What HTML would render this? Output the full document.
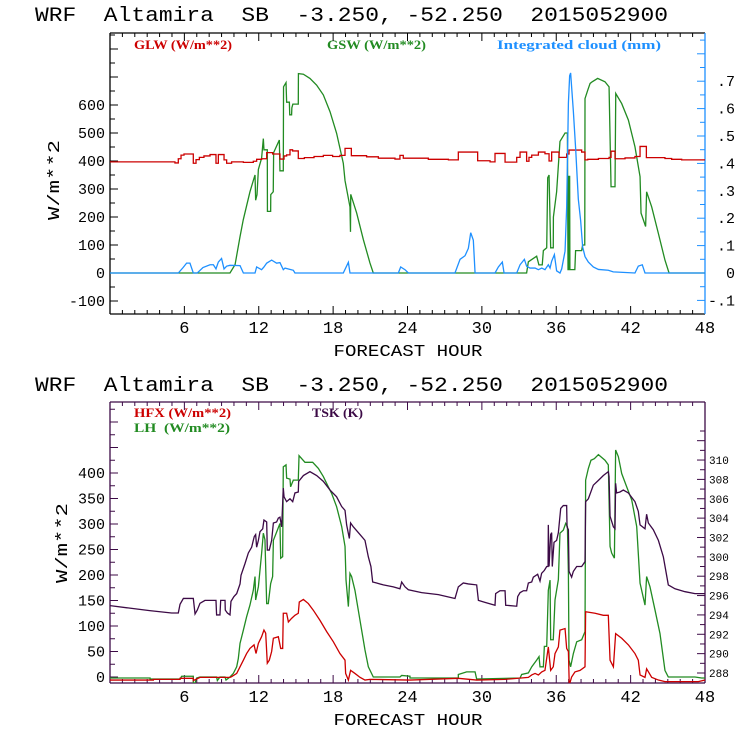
<!DOCTYPE html>
<html><head><meta charset="utf-8"><style>
html,body{margin:0;padding:0;background:#fff;}
svg{display:block;}
.mono{font-family:"Liberation Mono",monospace;}
.ser{font-family:"Liberation Serif",serif;font-weight:bold;}
</style></head><body>
<svg id="chart" width="740" height="740" viewBox="0 0 740 740" xmlns="http://www.w3.org/2000/svg">
<defs>
<clipPath id="c1"><rect x="110" y="33" width="595" height="281"/></clipPath>
<clipPath id="c2"><rect x="110" y="402" width="595" height="281"/></clipPath>
</defs>
<rect width="740" height="740" fill="#fff"/>
<text class="mono" x="35" y="21" font-size="20" textLength="633" lengthAdjust="spacingAndGlyphs" xml:space="preserve">WRF  Altamira  SB  -3.250, -52.250  2015052900</text>
<text class="mono" x="35" y="391" font-size="20" textLength="633" lengthAdjust="spacingAndGlyphs" xml:space="preserve">WRF  Altamira  SB  -3.250, -52.250  2015052900</text>
<text class="ser" x="134" y="49" font-size="13" fill="#cc0000" textLength="98" lengthAdjust="spacingAndGlyphs">GLW (W/m**2)</text>
<text class="ser" x="327" y="49" font-size="13" fill="#228b22" textLength="99" lengthAdjust="spacingAndGlyphs">GSW (W/m**2)</text>
<text class="ser" x="497" y="49" font-size="13" fill="#1e90ff" textLength="164" lengthAdjust="spacingAndGlyphs">Integrated cloud (mm)</text>
<text class="ser" x="134" y="417" font-size="13" fill="#cc0000" textLength="97" lengthAdjust="spacingAndGlyphs">HFX (W/m**2)</text>
<text class="ser" x="134" y="432" font-size="13" fill="#228b22" textLength="96" lengthAdjust="spacingAndGlyphs" xml:space="preserve">LH  (W/m**2)</text>
<text class="ser" x="312" y="417" font-size="13" fill="#3c0a46" textLength="51" lengthAdjust="spacingAndGlyphs">TSK (K)</text>
<text class="mono" x="408" y="356" font-size="17" text-anchor="middle" textLength="149" lengthAdjust="spacingAndGlyphs">FORECAST HOUR</text>
<text class="mono" x="408" y="725" font-size="17" text-anchor="middle" textLength="149" lengthAdjust="spacingAndGlyphs">FORECAST HOUR</text>
<text class="mono" transform="translate(59,180) rotate(-90)" font-size="17" text-anchor="middle" textLength="80" lengthAdjust="spacingAndGlyphs">W/m**2</text>
<text class="mono" transform="translate(67,543) rotate(-90)" font-size="17" text-anchor="middle" textLength="80" lengthAdjust="spacingAndGlyphs">W/m**2</text>
<g id="g"></g>
</svg>
<script>
// ---- data ----
const xTicks = [6,12,18,24,30,36,42,48];
const topLeftTicks = [-100,0,100,200,300,400,500,600];
const topRightTicks = [-0.1,0,0.1,0.2,0.3,0.4,0.5,0.6,0.7];
const topRightLabels = ["-.1","0",".1",".2",".3",".4",".5",".6",".7"];
const botLeftTicks = [0,50,100,150,200,250,300,350,400];
const botRightTicks = [288,290,292,294,296,298,300,302,304,306,308,310];

const glwT = [0,5.24,5.51,5.73,5.97,6.72,6.94,7.21,7.58,8.07,8.55,8.74,9.2,9.41,9.81,10.76,11.56,11.83,12.23,12.64,13.12,13.71,14.04,14.25,14.52,14.73,15.19,15.68,16.46,17.21,17.96,18.55,18.96,19.47,20.7,21.65,22.99,23.39,23.66,25.68,27.3,28.1,29.66,30.66,31.06,31.87,32.81,33.08,33.61,33.8,34.02,34.56,35.09,35.42,35.63,36.22,36.84,37.03,38.05,38.32,38.54,39.4,40.26,40.42,40.74,41.55,42.35,42.76,43.27,44.77,45.31,46.12];
const glwV = [397,393,408,421,425,392,405,413,418,423,392,423,404,392,397,395,399,406,408,430,425,407,418,422,440,436,409,412,416,420,416,420,445,419,415,410,407,420,410,406,404,432,401,397,427,396,413,432,399,413,421,432,426,400,432,413,425,439,432,404,406,409,413,435,408,411,416,452,412,409,406,404];

const gswT = [0,9.68,10.09,10.49,10.75,11.02,11.29,11.56,11.7,11.75,11.86,11.97,12.23,12.37,12.42,12.69,12.7,12.96,12.97,13.17,13.2,13.66,13.71,13.98,14.0,14.2,14.25,14.47,14.5,14.65,14.67,14.75,15.19,15.2,15.6,16.13,16.67,17.21,17.75,18.28,18.82,18.96,19.36,19.4,19.42,19.9,20.44,20.97,21.24,33.61,33.75,34.42,34.6,34.87,34.96,35.23,35.31,35.42,35.55,35.76,35.77,36.03,36.3,36.71,36.9,36.95,37.0,37.02,37.08,37.1,37.5,37.56,38.05,38.13,38.3,38.32,38.54,38.73,38.9,39.34,39.93,40.26,40.42,40.74,40.8,41.28,41.82,42.35,42.76,42.84,43.21,43.29,43.7,44.24,44.77,45.1,48];
const gswV = [0,0,30,130,190,240,290,330,350,260,280,370,410,480,440,440,220,220,280,290,430,475,365,365,665,680,610,610,565,565,590,603,603,712,710,695,671,636,576,499,392,330,236,147,281,214,119,36,0,0,40,60,29,29,80,90,340,350,90,90,200,290,470,500,500,12,12,345,345,12,12,80,80,100,100,623,653,677,683,695,683,665,308,308,641,605,546,451,344,214,166,290,236,141,46,0,0];

const cldT = [0,5.51,5.9,6.18,6.45,6.72,7.04,7.5,8.07,8.34,8.55,8.74,9.0,9.2,9.41,9.68,10.49,10.76,11.7,11.83,12.23,12.42,12.64,13.04,13.44,13.71,13.98,14.12,14.79,14.92,18.82,19.23,19.36,23.26,23.45,23.8,24.07,27.83,28.24,28.64,28.91,29.1,29.31,29.45,31.06,31.33,31.65,31.79,32.81,33.08,33.43,33.61,33.88,34.29,34.56,34.83,35.09,35.36,35.5,35.63,35.85,36.03,36.3,36.44,36.71,36.84,36.98,37.08,37.16,37.38,37.57,37.78,37.97,38.13,38.32,38.59,38.99,39.4,40.2,40.6,42.35,42.62,42.94,43.16,48];
const cldV = [0,0,0.02,0.036,0.036,0,0,0.02,0.03,0.03,0.015,0.04,0.053,0.015,0.025,0.028,0.027,0,0,0.022,0.012,0.022,0.036,0.047,0.036,0.038,0.012,0.018,0.01,0,0,0.039,0,0,0.022,0.012,0,0,0.05,0.063,0.09,0.147,0.12,0,0,0.022,0.04,0,0,0.03,0.05,0.025,0.018,0.018,0.012,0.018,0.012,0.03,0.018,0.043,0.067,0.008,0,0.015,0.08,0.24,0.62,0.72,0.73,0.59,0.45,0.27,0.19,0.095,0.06,0.04,0.022,0.013,0.01,0.004,0,0.025,0.03,0,0];

const tskT = [0,1.6,3.2,4.97,5.51,5.65,5.92,6.72,6.86,7.04,7.26,7.66,8.55,8.6,8.87,8.93,9.28,9.3,9.47,9.68,9.76,10.0,10.22,10.49,10.57,10.89,11.16,11.43,11.56,11.64,11.75,11.83,11.97,12.1,12.32,12.42,12.64,12.69,12.85,13.04,13.18,13.44,13.58,13.71,13.85,13.98,14.04,14.25,14.52,14.74,14.92,15.19,15.22,15.6,16.13,16.67,17.21,17.75,18.28,18.69,18.96,19.09,19.31,19.41,19.63,20.17,20.57,20.84,21.05,21.19,21.51,22.05,22.86,23.39,23.53,23.8,24.07,25.14,26.49,27.83,28.1,28.5,28.91,29.58,29.72,30.25,31.06,31.11,31.46,31.87,31.92,32.81,32.89,33.08,33.35,33.61,33.75,34.02,34.15,34.5,34.69,34.82,35.04,35.23,35.34,35.36,35.42,35.55,35.63,35.68,35.82,36.03,36.17,36.36,36.57,36.84,36.87,36.98,37.03,37.24,37.38,37.65,38.05,38.32,38.37,38.59,38.99,39.4,39.8,40.2,40.26,40.34,40.61,40.74,40.79,40.87,41.14,41.41,41.82,42.35,42.62,42.76,43.16,43.29,43.43,43.83,44.24,44.64,45.04,45.58,46.39,47.19,48];
const tskV = [294.96,294.7,294.44,294.2,294.2,295.1,295.7,295.7,294.1,294.5,295.2,295.5,295.5,294.0,294.0,295.5,295.5,294.5,294.2,294.0,295.4,295.9,296.2,297.2,298.1,299.3,300.4,301.0,301.7,302.1,302.3,301.0,301.7,302.6,302.9,303.8,303.6,300.7,300.7,301.7,303.5,303.6,304.0,304.1,303.1,307.1,306.2,305.7,306.0,305.7,306.6,306.7,307.8,308.4,308.8,308.4,307.8,306.9,306.2,305.2,304.8,303.3,301.9,303.5,303.1,302.3,301.7,300.0,299.0,297.4,297.3,297.1,296.9,296.7,297.4,296.9,296.6,296.3,296.1,295.7,296.9,297.3,297.2,297.1,295.5,295.3,295.0,296.2,296.5,296.5,295.0,294.9,295.9,296.3,296.5,296.5,297.3,297.4,297.9,298.2,297.5,298.3,298.6,299.0,299.0,303.3,299.0,302.3,302.5,299.0,301.5,301.7,302.5,305.0,305.3,305.3,303.1,302.8,298.5,297.9,298.5,299.0,299.0,299.5,305.7,306.0,307.4,307.9,308.4,308.8,308.3,304.2,303.1,302.9,307.6,306.6,306.7,306.9,306.6,305.7,304.7,303.3,302.9,304.4,303.5,302.8,301.7,300.0,297.1,296.7,296.4,296.2,296.2];

const lhT = [0,3.23,3.23,5.65,5.78,6.72,6.72,6.86,6.99,7.26,8.6,8.66,8.87,9.28,9.36,9.68,9.95,10.22,10.35,10.49,10.76,11.02,11.29,11.56,11.7,11.75,11.97,12.23,12.37,12.5,12.64,12.77,12.96,13.12,13.18,13.44,13.71,13.77,13.93,13.98,14.2,14.25,14.52,14.57,14.79,15.19,15.25,15.73,16.35,16.81,17.21,17.61,17.88,18.28,18.69,18.96,19.04,19.23,19.36,19.49,19.76,20.03,20.3,20.57,20.84,21.24,23.39,23.53,24.2,24.2,28.1,28.1,28.77,29.45,29.58,33.08,33.21,33.75,34.02,34.42,34.61,34.69,34.96,35.04,35.23,35.36,35.5,35.55,35.76,35.9,36.17,36.3,36.57,36.76,36.9,36.98,37.03,37.16,37.38,37.65,38.05,38.32,38.37,38.59,38.8,39.07,39.4,39.93,40.2,40.34,40.47,40.69,40.79,41.01,41.28,41.68,42.09,42.49,42.76,43.16,43.29,43.56,43.97,44.37,44.77,45.04,47.19,47.73,48];
const lhV = [-2,-2,-4,-4,1.5,1.5,-12,-12,-2,0,0,-7,0,0,-6,0,7,20,36,66,92,118,141,170,197,151,177,242,282,269,144,144,183,197,268,284,301,233,236,412,416,390,388,373,386,386,434,421,421,409,393,373,360,334,295,256,190,138,203,197,170,131,92,53,20,0,0,3,1.5,-2,-2,5,10,10,-4,-2,5,8,20,33,40,20,20,60,60,170,190,73,73,151,191,282,288,301,295,203,33,20,46,69,73,89,386,409,425,428,436,425,416,256,243,233,445,432,399,373,347,295,184,141,197,177,131,85,13,0,0,-2,-2];

const hfxT = [0,3.5,3.5,5.65,5.65,6.72,6.72,7.26,9.68,9.81,10.22,10.49,10.76,11.02,11.29,11.62,11.78,11.97,12.23,12.42,12.56,12.69,12.85,13.04,13.18,13.58,13.77,13.93,13.98,14.25,14.39,14.65,14.92,15.19,15.27,15.6,16.0,16.4,16.94,17.48,18.02,18.55,18.96,19.01,19.23,19.41,19.76,20.17,20.57,20.97,24.2,28.1,29.58,31.87,33.75,34.02,34.29,34.56,34.83,35.09,35.36,35.55,35.76,35.9,36.17,36.3,36.71,36.84,36.98,37.05,37.24,37.51,37.92,38.32,38.37,39.13,39.8,40.2,40.34,40.61,40.79,41.28,41.82,42.35,42.62,42.76,43.16,43.29,43.7,44.24,44.77,47.46,48];
const hfxV = [-6,-6,-4.6,-4.6,-2.6,-2.6,-7,-0.7,-0.7,0.65,7,20,33,46,56,63,46,66,79,92,86,27,33,50,76,79,56,56,125,125,108,115,121,125,147,152,144,131,111,89,69,46,33,7,-6,13,7,-0.7,-6,-4.6,-6,-2.6,-6,-4.6,-0.7,4,7,4,10,13,59,13,20,46,59,92,95,56,50,-16,0,10,13,20,128,125,121,121,33,20,85,76,63,46,33,4,-0.7,16,-0.7,-6,-9,-9,-6];

// ---- axis functions ----
const X0=110, X1=705;
const xs = h => X0 + (X1-X0)*h/48;
const yTopL = v => 273 - v*0.28;
const yTopR = v => 273 - v*274;
const yBotL = v => 677 - v*0.51;
const yBotR = k => 673 - (k-288)*9.68;

const NS="http://www.w3.org/2000/svg";
const g = document.getElementById('g');
function mk(tag, attrs, parent){const e=document.createElementNS(NS,tag);for(const k in attrs)e.setAttribute(k,attrs[k]);(parent||g).appendChild(e);return e;}

function line(T,V,yf,color,clip,name,step){
  let pts=[];
  for(let i=0;i<T.length;i++){
    if(step && i>0) pts.push(xs(T[i]).toFixed(2)+','+yf(V[i-1]).toFixed(2));
    pts.push(xs(T[i]).toFixed(2)+','+yf(V[i]).toFixed(2));
  }
  if(step) pts.push(xs(48).toFixed(2)+','+yf(V[V.length-1]).toFixed(2));
  const p=mk('polyline',{points:pts.join(' '),fill:'none',stroke:color,'stroke-width':1.3,'clip-path':'url(#'+clip+')'});
  
  
}

function frame(y0,y1,leftColor,rightColor,name){
  const f=mk('g',{});
  
  
  mk('line',{x1:X0,y1:y0,x2:X1,y2:y0,stroke:leftColor,'stroke-width':1.3},f);
  mk('line',{x1:X0,y1:y1,x2:X1,y2:y1,stroke:leftColor,'stroke-width':1.3},f);
  mk('line',{x1:X0,y1:y0,x2:X0,y2:y1,stroke:leftColor,'stroke-width':1.3},f);
  mk('line',{x1:X1,y1:y0,x2:X1,y2:y1,stroke:rightColor,'stroke-width':1.3},f);
  for(let h=1;h<48;h++){
    const L = h%6===0?8:4;
    mk('line',{x1:xs(h),y1:y1,x2:xs(h),y2:y1-L,stroke:leftColor,'stroke-width':1},f);
    mk('line',{x1:xs(h),y1:y0,x2:xs(h),y2:y0+L,stroke:leftColor,'stroke-width':1},f);
  }
  xTicks.forEach(h=>{
    const t=mk('text',{x:xs(h),y:y1+19,'font-size':17,'text-anchor':'middle','class':'mono'});
    t.textContent=h;
    
    
  });
  return f;
}

// top plot
frame(33,314,'#000','#1e90ff','top-plot-frame');
for(let v=-150;v<=850;v+=50){const y=yTopL(v);if(y<34||y>313)continue;
  mk('line',{x1:X0,y1:y,x2:X0+(v%100===0?8:5),y2:y,stroke:'#000','stroke-width':1});}
for(let v=-0.15;v<=0.86;v+=0.05){const y=yTopR(v);if(y<34||y>313)continue;
  mk('line',{x1:X1,y1:y,x2:X1-(Math.abs(Math.round(v*20))%2===0?8:5),y2:y,stroke:'#1e90ff','stroke-width':1});}
topLeftTicks.forEach(v=>{const t=mk('text',{x:105,y:yTopL(v)+5,'font-size':15,'text-anchor':'end','class':'mono'});t.textContent=v;
  
  });
topRightTicks.forEach((v,i)=>{const t=mk('text',{x:735,y:yTopR(v)+5,'font-size':15,'text-anchor':'end','class':'mono'});t.textContent=topRightLabels[i];
  
  });
line(gswT,gswV,yTopL,'#228b22','c1','gsw-line',false);
line(glwT,glwV,yTopL,'#cc0000','c1','glw-line',true);
line(cldT,cldV,yTopR,'#1e90ff','c1','cloud-line',false);

// bottom plot
frame(402,683,'#3c0a46','#3c0a46','bottom-plot-frame');
for(let v=-25;v<=525;v+=25){const y=yBotL(v);if(y<403||y>682)continue;
  mk('line',{x1:X0,y1:y,x2:X0+(v%50===0?8:5),y2:y,stroke:'#3c0a46','stroke-width':1});}
for(let k=288;k<=313;k++){const y=yBotR(k);if(y<403||y>682)continue;
  mk('line',{x1:X1,y1:y,x2:X1-(k%2===0?8:5),y2:y,stroke:'#3c0a46','stroke-width':1});}
botLeftTicks.forEach(v=>{const t=mk('text',{x:105,y:yBotL(v)+5,'font-size':15,'text-anchor':'end','class':'mono'});t.textContent=v;
  
  });
botRightTicks.forEach(v=>{const t=mk('text',{x:709,y:yBotR(v)+4,'font-size':11,'class':'mono'});t.textContent=v;
  
  });
line(lhT,lhV,yBotL,'#228b22','c2','lh-line',false);
line(hfxT,hfxV,yBotL,'#cc0000','c2','hfx-line',false);
line(tskT,tskV,yBotR,'#3c0a46','c2','tsk-line',false);
</script>
</body></html>
